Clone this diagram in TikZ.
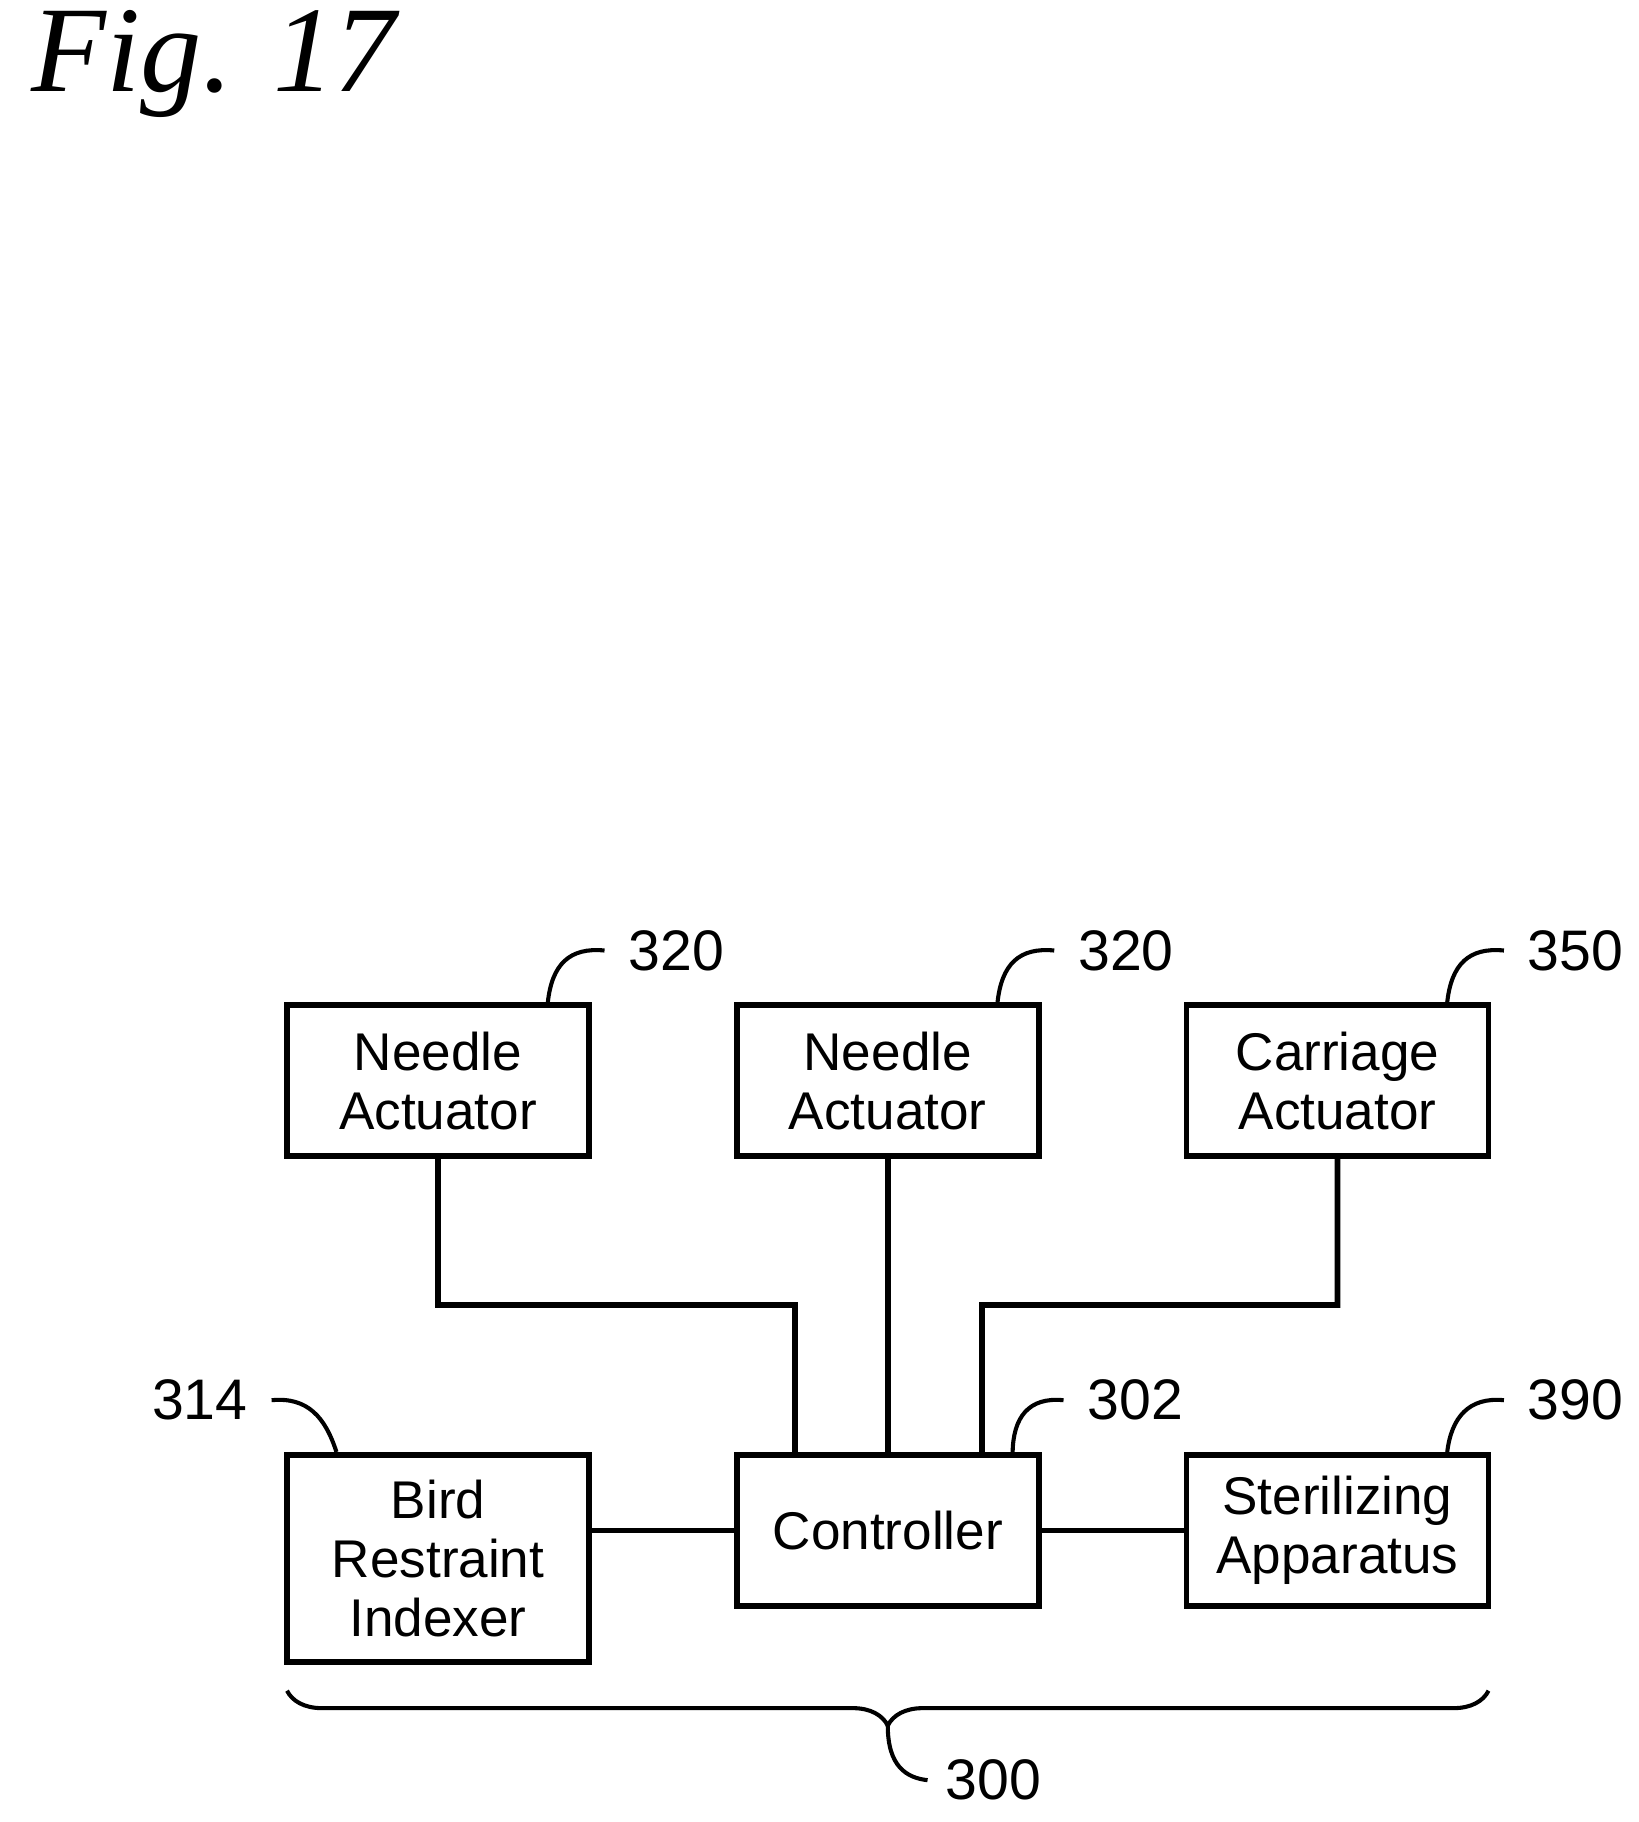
\documentclass[tikz,border=0pt]{standalone}
\usepackage{fontspec}
\setmainfont{Liberation Sans}
\newfontfamily\figfont{Liberation Serif}
\usetikzlibrary{positioning, decorations.pathreplacing}
\tikzstyle{block} = [rectangle, draw=black, line width=1.4pt, minimum width=2.6cm, minimum height=1.3cm, align=center, font=\fontsize{13}{14.5}\selectfont, inner sep=0pt]
\tikzstyle{wire} = [line width=1.4pt]
\tikzstyle{lead} = [line width=1pt]
\tikzstyle{refnum} = [font=\fontsize{14}{16}\selectfont, inner sep=0pt]

\begin{document}
\begin{tikzpicture}[x=1cm, y=-1cm]
    \useasboundingbox (0,0) rectangle (14.1,15.68);
    \node[font=\figfont\itshape\fontsize{30}{32}\selectfont, anchor=west] (title) at (0.15,0.55) {Fig. 17};

    % Top row
    \node[block] (needleA) at (3.77,9.30) {Needle\\Actuator};
    \node[block] (needleB) at (7.64,9.30) {Needle\\Actuator};
    \node[block] (carriage) at (11.51,9.30) {Carriage\\Actuator};

    % Bottom row
    \node[block, minimum height=1.78cm] (indexer) at (3.77,13.41) {Bird\\Restraint\\Indexer};
    \node[block] (controller) at (7.64,13.17) {Controller};
    \node[block] (steril) at (11.51,13.17) {Sterilizing\\Apparatus};

    % Connectors
    \draw[wire] (needleA.south) |- (6.84,11.23) -- ([xshift=-0.8cm]controller.north);
    \draw[wire] (needleB.south) -- (controller.north);
    \draw[wire] (carriage.south) |- (8.45,11.23) -- ([xshift=0.81cm]controller.north);
    \draw[wire] (indexer.east |- controller.west) -- (controller.west);
    \draw[wire] (controller.east) -- (steril.west);

    % Reference numerals
    \node[refnum] (nA) at (5.82,8.18) {320};
    \node[refnum] (nB) at (9.69,8.18) {320};
    \node[refnum] (nC) at (13.56,8.18) {350};
    \node[refnum] (nD) at (1.72,12.05) {314};
    \node[refnum] (nE) at (9.77,12.05) {302};
    \node[refnum] (nF) at (13.56,12.05) {390};
    \node[refnum] (nG) at (8.55,15.32) {300};

    \draw[lead] ([xshift=-0.2cm]nA.west) .. controls (4.9,8.15) and (4.75,8.3) .. ([xshift=-0.38cm]needleA.north east);
    \draw[lead] ([xshift=-0.2cm]nB.west) .. controls (8.77,8.15) and (8.62,8.3) .. ([xshift=-0.38cm]needleB.north east);
    \draw[lead] ([xshift=-0.2cm]nC.west) .. controls (12.64,8.15) and (12.49,8.3) .. ([xshift=-0.38cm]carriage.north east);
    \draw[lead] ([xshift=0.2cm]nD.east) .. controls (2.65,12.02) and (2.8,12.2) .. ([xshift=0.45cm]indexer.north west);
    \draw[lead] ([xshift=-0.2cm]nE.west) .. controls (8.85,12.02) and (8.72,12.2) .. ([xshift=-0.25cm]controller.north east);
    \draw[lead] ([xshift=-0.2cm]nF.west) .. controls (12.64,12.02) and (12.49,12.2) .. ([xshift=-0.38cm]steril.north east);

    % Brace
    \draw[lead, decorate, decoration={brace, mirror, amplitude=0.3cm}] (2.47,14.55) -- (12.81,14.55);
    \coordinate (tip) at (7.64,14.85);
    \draw[lead] (tip) .. controls (7.64,15.2) and (7.8,15.3) .. ([xshift=-0.15cm]nG.west);
\end{tikzpicture}
\end{document}
